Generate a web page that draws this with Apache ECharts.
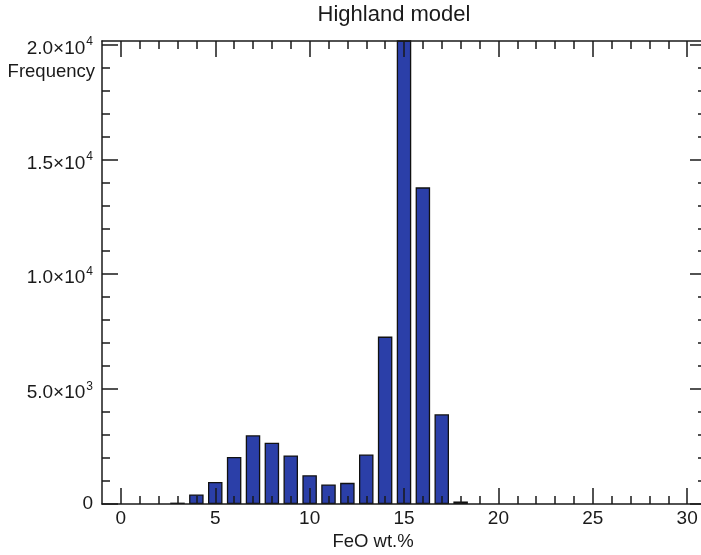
<!DOCTYPE html>
<html>
<head>
<meta charset="utf-8">
<title>Highland model</title>
<script src="https://cdn.jsdelivr.net/npm/echarts@6/dist/echarts.min.js"></script>
<style>
  html, body { margin: 0; padding: 0; background: #ffffff; }
  #chart { width: 701px; height: 555px; }
</style>
</head>
<body>
<div id="chart"></div>
<script>
// FeO histogram bins (bin centre, wt.%) and their counts
const feoBins = [3, 4, 5, 6, 7, 8, 9, 10, 11, 12, 13, 14, 15, 16, 17, 18];
const frequency = [60, 415, 960, 2050, 2990, 2665, 2115, 1250, 850, 920, 2155, 7285, 21500, 13780, 3905, 110];

// Tick positions
const xMajorTicks = [0, 5, 10, 15, 20, 25, 30];
const xMinorTicks = [1, 2, 3, 4, 6, 7, 8, 9, 11, 12, 13, 14, 16, 17, 18, 19, 21, 22, 23, 24, 26, 27, 28, 29];
const yMajorTicks = [0, 5000, 10000, 15000, 20000];
const yMinorTicks = [1000, 2000, 3000, 4000, 6000, 7000, 8000, 9000, 11000, 12000, 13000, 14000, 16000, 17000, 18000, 19000];

const FONT = "'Liberation Sans', Helvetica, Arial, sans-serif";
const INK = '#1a1a1a';
const X_RANGE = [-1, 31];
const Y_RANGE = [0, 20150];

function sciLabel(v) {
  if (v === 0) return '0';
  const exp = Math.floor(Math.log10(v) + 1e-9);
  const mant = v / Math.pow(10, exp);
  return '{m|' + mant.toFixed(1) + '×10}{s|' + exp + '}';
}

function xAxisDef(position, ticks, len, withLine, withLabels) {
  return {
    type: 'value', position: position, min: X_RANGE[0], max: X_RANGE[1], z: 5,
    axisLine: { show: withLine, onZero: false, lineStyle: { color: INK, width: 1.5 } },
    axisTick: { show: true, inside: true, length: len, customValues: ticks,
                lineStyle: { color: INK, width: 1.5 } },
    axisLabel: withLabels
      ? { show: true, customValues: ticks, margin: 5, color: INK, fontSize: 19, fontFamily: FONT }
      : { show: false },
    splitLine: { show: false }
  };
}

function yAxisDef(position, ticks, len, withLine, withLabels) {
  return {
    type: 'value', position: position, min: Y_RANGE[0], max: Y_RANGE[1], z: 5,
    axisLine: { show: withLine, onZero: false, lineStyle: { color: INK, width: 1.5 } },
    axisTick: { show: true, inside: true, length: len, customValues: ticks,
                lineStyle: { color: INK, width: 1.5 } },
    axisLabel: withLabels
      ? {
          show: true, customValues: ticks, margin: 9, color: INK,
          fontSize: 19, fontFamily: FONT, formatter: sciLabel,
          rich: {
            m: { fontSize: 19, fontFamily: FONT, color: INK, verticalAlign: 'bottom' },
            s: { fontSize: 12, fontFamily: FONT, color: INK, verticalAlign: 'top',
                 padding: [5, 0, 10, 1] }
          }
        }
      : { show: false },
    splitLine: { show: false }
  };
}

const chart = echarts.init(document.getElementById('chart'), null, { renderer: 'canvas' });

chart.setOption({
  animation: false,
  backgroundColor: '#ffffff',
  // the right-hand frame sits just past the canvas edge
  grid: { left: 102, top: 41, width: 604, height: 463, containLabel: false, outerBoundsMode: 'none' },
  xAxis: [
    xAxisDef('bottom', xMajorTicks, 16, true, true),
    xAxisDef('bottom', xMinorTicks, 8, false, false),
    xAxisDef('top', xMajorTicks, 16, true, false),
    xAxisDef('top', xMinorTicks, 8, false, false)
  ],
  yAxis: [
    yAxisDef('left', yMajorTicks, 16, true, true),
    yAxisDef('left', yMinorTicks, 8, false, false),
    yAxisDef('right', yMajorTicks, 16, true, false),
    yAxisDef('right', yMinorTicks, 8, false, false)
  ],
  graphic: [
    { type: 'text', x: 394, y: 15, z: 10,
      style: { text: 'Highland model', fill: INK, font: '22px ' + FONT, textAlign: 'center', textVerticalAlign: 'middle' } },
    { type: 'text', x: 95, y: 72, z: 10,
      style: { text: 'Frequency', fill: INK, font: '18.5px ' + FONT, textAlign: 'right', textVerticalAlign: 'middle' } },
    { type: 'text', x: 373, y: 542, z: 10,
      style: { text: 'FeO wt.%', fill: INK, font: '18.5px ' + FONT, textAlign: 'center', textVerticalAlign: 'middle' } }
  ],
  series: [{
    type: 'bar',
    xAxisIndex: 0,
    yAxisIndex: 0,
    barWidth: 14.5,
    clip: true,
    z: 2,
    itemStyle: { color: '#2b3fa8', borderColor: '#111111', borderWidth: 1.3 },
    data: feoBins.map((b, i) => [b, frequency[i]])
  }]
});
</script>
</body>
</html>
